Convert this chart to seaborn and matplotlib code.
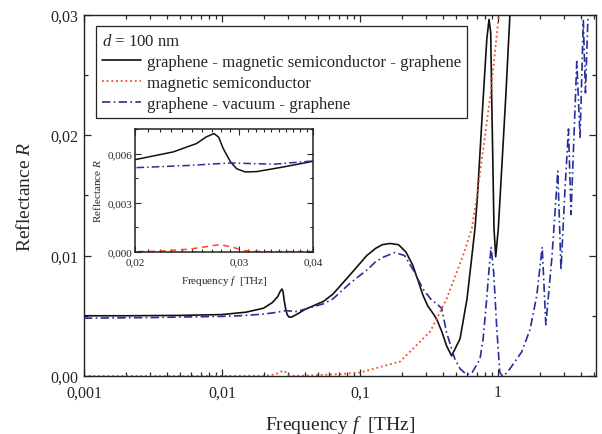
import numpy as np
import pandas as pd
import seaborn as sns
import matplotlib.pyplot as plt
from matplotlib.ticker import FixedLocator, FixedFormatter, MultipleLocator, LogLocator, NullFormatter

# frequency f [THz] and reflectance R
# graphene - magnetic semiconductor - graphene
f_gmg = [0.001, 0.002, 0.005, 0.01, 0.015, 0.02, 0.0232, 0.0254, 0.0264, 0.0272, 0.0277,
         0.0282, 0.029, 0.0297, 0.0307, 0.0321, 0.0356, 0.04, 0.0545, 0.0637, 0.0847,
         0.112, 0.13, 0.145, 0.165, 0.19, 0.215, 0.241, 0.262, 0.286, 0.31, 0.338, 0.36,
         0.391, 0.424, 0.461, 0.531, 0.596, 0.64, 0.681, 0.708, 0.781, 0.83, 0.861, 0.885,
         0.9, 0.935, 0.962, 1.005, 1.137, 1.22, 1.3]
r_gmg = [0.0050, 0.00500, 0.00503, 0.0051, 0.0053, 0.00563, 0.0061, 0.00661, 0.00702, 0.00722, 0.0070,
         0.0063, 0.0055, 0.00508, 0.00488, 0.0049, 0.00518, 0.00553, 0.0062, 0.0068, 0.0084,
         0.0100, 0.0106, 0.0109, 0.0110, 0.0109, 0.0103, 0.0092, 0.0080, 0.0067, 0.0058, 0.0052, 0.0047,
         0.0037, 0.0025, 0.00167, 0.0031, 0.0064, 0.0095, 0.01225, 0.01475, 0.0231, 0.0280, 0.0296, 0.0285,
         0.0231, 0.01225, 0.0099, 0.01225, 0.0231, 0.0300, 0.0350]

# magnetic semiconductor
f_ms = [0.001, 0.005, 0.02, 0.022, 0.0248, 0.0278, 0.0293, 0.0305, 0.033, 0.04, 0.05, 0.07,
        0.1, 0.14, 0.195, 0.241, 0.323, 0.424, 0.558, 0.646, 0.70, 0.876, 1.016, 1.06]
r_ms = [0.0, 0.0, 0.00002, 0.00005, 0.00018, 0.00045, 0.00029, 0.00008, 0.00002, 0.00003, 0.00008, 0.00015,
        0.00028, 0.00075, 0.0012, 0.00225, 0.0037, 0.0064, 0.0100, 0.01225, 0.01475, 0.0231, 0.0300, 0.0325]

# graphene - vacuum - graphene
f_gvg = [0.001, 0.003, 0.01, 0.0135, 0.02, 0.0248, 0.029, 0.0343, 0.04, 0.0545, 0.0637, 0.0847,
         0.115, 0.13, 0.15, 0.179, 0.21, 0.243, 0.287, 0.33, 0.36, 0.391, 0.424, 0.487, 0.531, 0.594,
         0.65, 0.74, 0.78, 0.828, 0.85, 0.89, 0.93, 0.98, 1.03, 1.08, 1.14, 1.22, 1.485, 1.71,
         1.91, 2.09, 2.22, 2.46, 2.71, 2.86, 3.06, 3.24, 3.38, 3.72, 3.93, 4.15, 4.3, 4.55]
r_gvg = [0.0048, 0.00485, 0.00495, 0.0050, 0.00514, 0.00528, 0.00543, 0.00535, 0.00555, 0.0060, 0.0064, 0.0077,
         0.0089, 0.0095, 0.0099, 0.01025, 0.0100, 0.0088, 0.0072, 0.0063, 0.0060, 0.0056, 0.0036, 0.0014, 0.0006,
         0.0001, 0.0003, 0.0014, 0.0031, 0.0064, 0.0081, 0.0107, 0.0086, 0.0039, 0.0003, 0.0, 0.0002, 0.0006,
         0.0020, 0.0039, 0.0067, 0.0107, 0.00425, 0.0099, 0.0170, 0.0088, 0.0156, 0.0205, 0.0134, 0.0261,
         0.0198, 0.0295, 0.0235, 0.0320]

labels = ["graphene - magnetic semiconductor - graphene",
          "magnetic semiconductor",
          "graphene - vacuum - graphene"]
legend_title = "$d$ = 100 nm"

x_ticks = [0.001, 0.01, 0.1, 1]
x_tick_labels = ["0,001", "0,01", "0,1", "1"]
y_ticks = [0.0, 0.01, 0.02, 0.03]
y_tick_labels = ["0,00", "0,01", "0,02", "0,03"]
inset_x_ticks = [0.02, 0.03, 0.04]
inset_x_tick_labels = ["0,02", "0,03", "0,04"]
inset_y_ticks = [0.0, 0.003, 0.006]
inset_y_tick_labels = ["0,000", "0,003", "0,006"]

df_gmg = pd.DataFrame({"f": f_gmg, "R": r_gmg})
df_ms = pd.DataFrame({"f": f_ms, "R": r_ms})
df_gvg = pd.DataFrame({"f": f_gvg, "R": r_gvg})

sns.set_style("ticks")
plt.rcParams["font.family"] = ["Liberation Serif", "DejaVu Serif"]
plt.rcParams["mathtext.fontset"] = "custom"
plt.rcParams["mathtext.rm"] = "Liberation Serif"
plt.rcParams["mathtext.it"] = "Liberation Serif:italic"

black = "#111111"
red = "#f04e23"
blue = "#25309a"

fig = plt.figure(figsize=(6.02, 4.35), dpi=100)
ax = fig.add_axes([0.1395, 0.1333, 0.850, 0.831])

sns.lineplot(data=df_gmg, x="f", y="R", ax=ax, color=black, lw=1.2, sort=False,
             estimator=None, label=labels[0])
sns.lineplot(data=df_ms, x="f", y="R", ax=ax, color=red, lw=1.3, sort=False,
             estimator=None, linestyle=(0, (1, 1.6)), label=labels[1])
sns.lineplot(data=df_gvg, x="f", y="R", ax=ax, color=blue, lw=1.2, sort=False,
             estimator=None, linestyle=(0, (5, 2, 1, 2)), label=labels[2])

ax.set_xscale("log")
ax.set_xlim(0.001, 5.1)
ax.set_ylim(0, 0.03)
ax.xaxis.set_major_locator(FixedLocator(x_ticks))
ax.xaxis.set_major_formatter(FixedFormatter(x_tick_labels))
ax.xaxis.set_minor_locator(LogLocator(base=10, subs=np.arange(2, 10)))
ax.xaxis.set_minor_formatter(NullFormatter())
ax.yaxis.set_major_locator(FixedLocator(y_ticks))
ax.yaxis.set_major_formatter(FixedFormatter(y_tick_labels))
ax.yaxis.set_minor_locator(MultipleLocator(0.005))
ax.tick_params(which="both", direction="in", top=True, right=True, labelsize=11.5, width=0.9)
ax.tick_params(which="major", length=5)
ax.tick_params(which="minor", length=3)
ax.tick_params(axis="x", pad=6)
ax.tick_params(axis="y", pad=4)
for s in ax.spines.values():
    s.set_linewidth(1.0)
    s.set_color("#222222")
ax.set_xlabel("Frequency $f$  [THz]", fontsize=14, labelpad=9)
ax.set_ylabel("Reflectance $R$", fontsize=14, labelpad=12)

leg = ax.legend(loc="upper left", bbox_to_anchor=(0.0234, 0.967), borderaxespad=0,
                title=legend_title, alignment="left", fontsize=12.1, title_fontsize=12.1,
                fancybox=False, framealpha=1, edgecolor="#222222", handlelength=2.3,
                handletextpad=0.35, labelspacing=0.3, borderpad=0.38)
leg.get_frame().set_linewidth(0.9)

# inset
ins = fig.add_axes([0.2243, 0.4184, 0.2957, 0.2828])
sns.lineplot(data=df_gmg, x="f", y="R", ax=ins, color=black, lw=1.1, sort=False, estimator=None)
sns.lineplot(data=df_ms, x="f", y="R", ax=ins, color=red, lw=1.1, sort=False,
             estimator=None, linestyle=(0, (4, 3)))
sns.lineplot(data=df_gvg, x="f", y="R", ax=ins, color=blue, lw=1.1, sort=False,
             estimator=None, linestyle=(0, (5, 2, 1, 2)))
ins.set_xscale("log")
ins.set_xlim(0.02, 0.04)
ins.set_ylim(0, 0.0075)
ins.xaxis.set_major_locator(FixedLocator(inset_x_ticks))
ins.xaxis.set_major_formatter(FixedFormatter(inset_x_tick_labels))
ins.xaxis.set_minor_locator(MultipleLocator(0.001))
ins.xaxis.set_minor_formatter(NullFormatter())
ins.yaxis.set_major_locator(FixedLocator(inset_y_ticks))
ins.yaxis.set_major_formatter(FixedFormatter(inset_y_tick_labels))
ins.yaxis.set_minor_locator(MultipleLocator(0.0015))
ins.tick_params(which="both", direction="in", top=True, right=True, labelsize=8, width=0.8)
ins.tick_params(which="major", length=4)
ins.tick_params(which="minor", length=2)
ins.tick_params(axis="x", pad=4)
ins.tick_params(axis="y", pad=2)
for s in ins.spines.values():
    s.set_linewidth(1.1)
    s.set_color("#222222")
ins.set_xlabel("Frequency $f$  [THz]", fontsize=8, labelpad=5)
ins.set_ylabel("Reflectance $R$", fontsize=8, labelpad=3)

fig.savefig("out.png", dpi=100)
